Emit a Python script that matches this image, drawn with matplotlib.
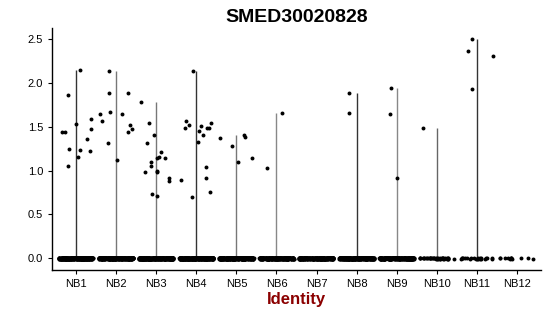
import numpy as np
import matplotlib
matplotlib.use("Agg")
import matplotlib.pyplot as plt

plt.rcParams['font.family'] = ['Liberation Sans', 'DejaVu Sans']

groups = ["NB1", "NB2", "NB3", "NB4", "NB5", "NB6", "NB7", "NB8", "NB9", "NB10", "NB11", "NB12"]

# non-zero expression values per group
nb1 = [2.15, 1.86, 1.44, 1.44, 1.53, 1.25, 1.23, 1.16, 1.05, 1.36, 1.59, 1.47, 1.22]
nb2 = [1.64, 1.56, 1.31, 2.14, 1.88, 1.67, 1.65, 1.89, 1.52, 1.47, 1.44, 1.12]
nb3 = [1.78, 1.54, 1.40, 1.31, 1.21, 1.16, 1.14, 1.14, 1.10, 1.05, 1.00, 0.98, 0.98, 0.91, 0.88, 0.73, 0.71]
nb4 = [2.13, 1.57, 1.49, 1.52, 1.51, 1.45, 1.41, 1.49, 1.48, 1.54, 1.33, 1.04, 0.91, 0.76, 0.89, 0.70]
nb5 = [1.37, 1.28, 1.41, 1.38, 1.10, 1.14]
nb6 = [1.66, 1.03]
nb7 = []
nb8 = [1.88, 1.66]
nb9 = [1.94, 1.65, 0.92]
nb10 = [1.49]
nb11 = [2.50, 2.36, 2.31, 1.93]
nb12 = []
nonzero = [nb1, nb2, nb3, nb4, nb5, nb6, nb7, nb8, nb9, nb10, nb11, nb12]

# jitter offsets (fraction of category width) for non-zero points
off1 = [0.11, -0.21, -0.34, -0.28, 0.0, -0.18, 0.10, 0.06, -0.20, 0.27, 0.37, 0.37, 0.35]
off2 = [-0.40, -0.36, -0.20, -0.19, -0.17, -0.16, 0.15, 0.30, 0.35, 0.39, 0.30, 0.02]
off3 = [-0.38, -0.17, -0.06, -0.23, 0.12, 0.07, 0.01, 0.21, -0.13, -0.13, 0.01, 0.03, -0.28, 0.31, 0.33, -0.10, 0.01]
off4 = [-0.09, -0.25, -0.27, -0.17, 0.12, 0.07, 0.17, 0.27, 0.31, 0.37, 0.05, 0.24, 0.25, 0.34, -0.38, -0.11]
off5 = [-0.41, -0.11, 0.19, 0.22, 0.04, 0.40]
off6 = [0.15, -0.24]
off7 = []
off8 = [-0.20, -0.18]
off9 = [-0.13, -0.17, 0.0]
off10 = [-0.35]
off11 = [-0.12, -0.23, 0.40, -0.13]
off12 = []
offsets = [off1, off2, off3, off4, off5, off6, off7, off8, off9, off10, off11, off12]

# number of cells with zero expression per group
zero_counts = [300, 300, 300, 300, 300, 250, 250, 300, 250, 40, 22, 12]

line_colors = ["#333333", "#777777", "#777777", "#333333", "#777777", "#888888",
               "#777777", "#333333", "#888888", "#666666", "#333333", "#777777"]

fig = plt.figure(figsize=(5.5, 3.16), dpi=100)
ax = fig.add_axes([52/550, 1 - 270/316, (541-52)/550, (270-28)/316])

rng = np.random.default_rng(3)
for i, g in enumerate(groups):
    xc = i + 1
    vals = nonzero[i]
    vmax = max(vals) if vals else 0
    if vmax > 0:
        ax.vlines(xc, 0, vmax, color=line_colors[i], lw=1.0, zorder=1)
    # zero points (jittered)
    n0 = zero_counts[i]
    xj = xc + rng.uniform(-0.43, 0.43, n0)
    yj = rng.uniform(-0.008, 0.008, n0)
    ax.scatter(xj, yj, s=8, c="black", linewidths=0, zorder=2)
    if vals:
        ax.scatter(xc + np.array(offsets[i]), vals, s=8, c="black", linewidths=0, zorder=3)

ax.set_xlim(0.4, 12.6)
ax.set_ylim(-0.134, 2.626)
ax.set_xticks(range(1, len(groups) + 1))
ax.set_xticklabels(groups)
ax.set_yticks([0, 0.5, 1.0, 1.5, 2.0, 2.5])
ax.set_yticklabels(["0.0", "0.5", "1.0", "1.5", "2.0", "2.5"])
ax.tick_params(axis="both", labelsize=8, length=3, color="black", labelcolor="black")
for s in ["top", "right"]:
    ax.spines[s].set_visible(False)
for s in ["left", "bottom"]:
    ax.spines[s].set_linewidth(1.0)

ax.set_xlabel("Identity", fontsize=12, fontweight="bold", color="#8B0000", labelpad=2)
ax.set_title("SMED30020828", fontsize=14, fontweight="bold", pad=4)

fig.savefig("out.png", dpi=100)
